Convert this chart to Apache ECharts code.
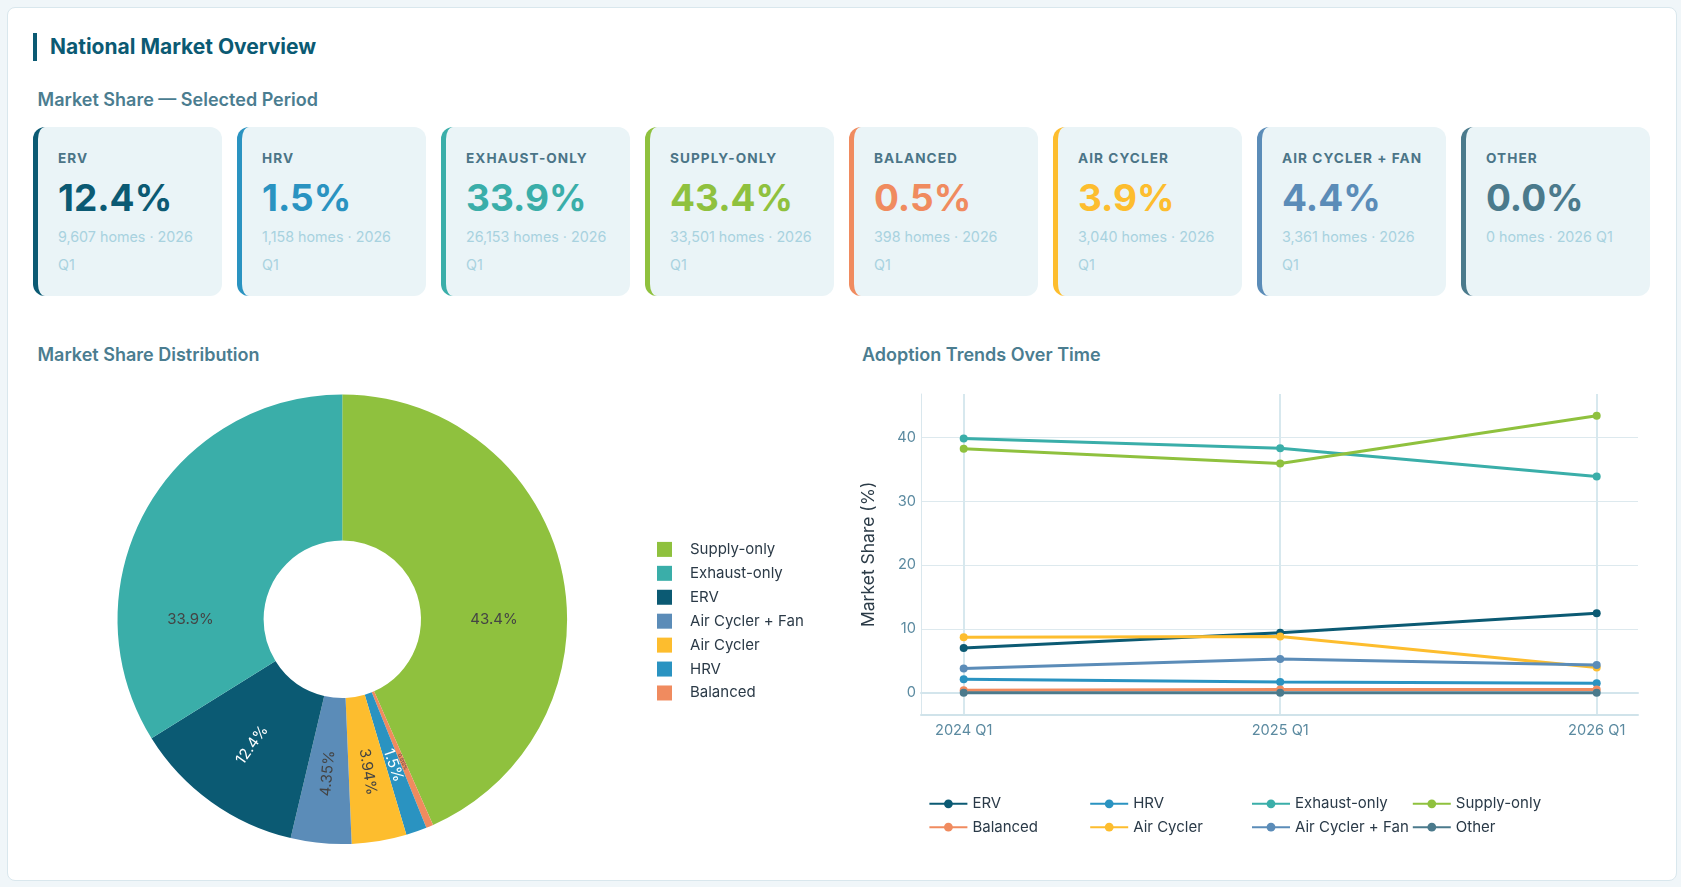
<!DOCTYPE html>
<html>
<head>
<meta charset="utf-8">
<script src="https://cdn.jsdelivr.net/npm/echarts@6/dist/echarts.min.js"></script>
<style>
html,body{margin:0;padding:0;}
body{width:1681px;height:887px;overflow:hidden;background:#f0f6f9;font-family:Inter,'Noto Sans',sans-serif;position:relative;}
#panel{position:absolute;left:7px;top:7px;width:1668px;height:872px;background:#fff;border:1px solid #d9e7ed;border-radius:8px;}
#bar{position:absolute;left:33px;top:33px;width:4px;height:28px;background:#0b5a73;}
#title{position:absolute;left:50px;top:32.7px;font-size:21px;line-height:28px;font-weight:700;color:#0b5a73;white-space:nowrap;}
.sub{position:absolute;font-size:18px;line-height:20px;font-weight:600;color:#4b7d90;white-space:nowrap;}
.card{position:absolute;top:127px;width:188.5px;height:169px;box-sizing:border-box;background:#eaf4f7;border-left:5px solid;border-radius:12px;padding:23px 20.5px 0 20px;}
.lbl{font-size:13.6px;line-height:16px;font-weight:700;letter-spacing:1.05px;color:#4b7587;white-space:nowrap;}
.val{margin-top:10px;font-size:37px;line-height:44px;font-weight:700;white-space:nowrap;}
.meta{margin-top:3px;font-size:14.3px;line-height:28px;color:#a8d2df;}
#chart{position:absolute;left:0;top:0;width:1681px;height:887px;}
</style>
</head>
<body>
<div id="panel"></div>
<div id="bar"></div>
<div id="title">National Market Overview</div>
<div class="sub" style="left:37.6px;top:89.5px">Market Share — Selected Period</div>
<div id="cards"></div>
<div class="sub" style="left:37.5px;top:344.5px">Market Share Distribution</div>
<div class="sub" style="left:862px;top:344.5px">Adoption Trends Over Time</div>
<div id="chart"></div>
<script>
// ---------- DATA ----------
const categories = ['ERV', 'HRV', 'Exhaust-only', 'Supply-only', 'Balanced', 'Air Cycler', 'Air Cycler + Fan', 'Other'];
const homes2026Q1 = [9607, 1158, 26153, 33501, 398, 3040, 3361, 0];
const selectedPeriod = '2026 Q1';
const periods = ['2024 Q1', '2025 Q1', '2026 Q1'];
const shareERV = [7.0, 9.4, 12.44];
const shareHRV = [2.1, 1.7, 1.5];
const shareExhaust = [39.8, 38.3, 33.87];
const shareSupply = [38.2, 35.9, 43.39];
const shareBalanced = [0.4, 0.5, 0.52];
const shareAirCycler = [8.7, 8.8, 3.94];
const shareAirCyclerFan = [3.8, 5.3, 4.35];
const shareOther = [0, 0, 0];
const yTicks = [0, 10, 20, 30, 40];

// ---------- STYLE ----------
const colors = {
  'ERV': '#0b5a73', 'HRV': '#2a93c1', 'Exhaust-only': '#3aaea9', 'Supply-only': '#8fc13e',
  'Balanced': '#f08b5f', 'Air Cycler': '#fdbd2e', 'Air Cycler + Fan': '#5b8cb8', 'Other': '#4b7a8c'
};
const lightTextSlices = ['ERV', 'HRV'];
const trendSeries = [shareERV, shareHRV, shareExhaust, shareSupply, shareBalanced, shareAirCycler, shareAirCyclerFan, shareOther];

// ---------- CARDS ----------
const total = homes2026Q1.reduce((a, b) => a + b, 0);
const cardsEl = document.getElementById('cards');
categories.forEach((name, i) => {
  const c = document.createElement('div');
  c.className = 'card';
  c.style.left = (33 + i * 204) + 'px';
  c.style.borderLeftColor = colors[name];
  const pct = (total ? homes2026Q1[i] / total * 100 : 0).toFixed(1) + '%';
  c.innerHTML = '<div class="lbl">' + name.toUpperCase() + '</div>' +
    '<div class="val" style="color:' + colors[name] + '">' + pct + '</div>' +
    '<div class="meta">' + homes2026Q1[i].toLocaleString('en-US') + ' homes · ' + selectedPeriod + '</div>';
  cardsEl.appendChild(c);
});

// ---------- CHARTS ----------
function render() {
  const chart = echarts.init(document.getElementById('chart'), null, { renderer: 'canvas' });
  const FONT = 'Inter';
  const PIE_C = [342.3, 619.3], PIE_R = [78.7, 224.8];

  const pieItems = categories.map((n, i) => ({ name: n, value: homes2026Q1[i] }))
    .filter(d => d.value > 0).sort((a, b) => b.value - a.value);
  const legendOrder = pieItems.map(d => d.name);
  const pieOrder = [pieItems[0]].concat(pieItems.slice(1).reverse());
  const pieData = pieOrder.map(d => {
    const share = d.value / total;
    return {
      name: d.name, value: d.value,
      itemStyle: { color: colors[d.name] },
      label: {
        rotate: share > 0.2 ? 0 : 'radial',
        color: lightTextSlices.indexOf(d.name) >= 0 ? '#ffffff' : '#444444',
        fontSize: share < 0.01 ? 5 : 15
      }
    };
  });
  const fmtPct = p => String(Number(Number(p.percent).toPrecision(3))) + '%';

  const legendCols = [928.4, 1089.2, 1251, 1411.8];
  const legendRows = [803.8, 827.2];
  const lineLegends = categories.map((n, i) => ({
    data: [n], orient: 'horizontal', padding: 0,
    left: legendCols[i % 4], top: legendRows[Math.floor(i / 4)] - 9,
    itemWidth: 38, itemHeight: 11, selectedMode: false,
    textStyle: { fontFamily: FONT, fontSize: 15, color: '#2a3a48', lineHeight: 18 }
  }));

  const lineSeries = categories.map((n, i) => ({
    type: 'line', name: n, data: trendSeries[i], xAxisIndex: 2, yAxisIndex: 1,
    symbol: 'circle', symbolSize: 8, showSymbol: true,
    lineStyle: { width: 3, color: colors[n] }, itemStyle: { color: colors[n] },
    emphasis: { disabled: true }, silent: true, animation: false
  }));

  const option = {
    animation: false,
    textStyle: { fontFamily: FONT },
    legend: [{
      data: legendOrder, orient: 'vertical', left: 657, top: 541.9, padding: 0,
      itemWidth: 15, itemHeight: 15, itemGap: 8.93, icon: 'rect', selectedMode: false,
      itemStyle: { borderWidth: 0 },
      textStyle: { fontFamily: FONT, fontSize: 15, color: '#2b3a47', lineHeight: 15, padding: [0, 0, 0, 13] }
    }].concat(lineLegends),
    grid: [
      { left: 921, top: 394, width: 717, height: 320.7, containLabel: false, outerBoundsMode: 'none' },
      { left: 963.7, top: 394, width: 633, height: 320.7, containLabel: false, outerBoundsMode: 'none' }
    ],
    xAxis: [
      { gridIndex: 0, type: 'value', min: 0, max: 1, position: 'bottom',
        axisLine: { show: true, onZero: true, lineStyle: { color: '#d3e5ec', width: 2 } },
        axisLabel: { show: false }, axisTick: { show: false }, splitLine: { show: false } },
      { gridIndex: 0, type: 'value', min: 0, max: 1, position: 'bottom',
        axisLine: { show: true, onZero: false, lineStyle: { color: '#d0e3ea', width: 2 } },
        axisLabel: { show: false }, axisTick: { show: false }, splitLine: { show: false } },
      { gridIndex: 1, type: 'category', data: periods, boundaryGap: false, position: 'bottom',
        axisLine: { show: false, onZero: false }, axisTick: { show: false },
        axisLabel: { margin: 8.5, fontSize: 14.6, color: '#5b8aa0', fontFamily: FONT, interval: 0 },
        splitLine: { show: true, lineStyle: { color: '#d7e8ee', width: 2 } } }
    ],
    yAxis: [
      { gridIndex: 0, type: 'value', min: -3.44, max: 46.78,
        name: 'Market Share (%)', nameLocation: 'middle', nameGap: 43,
        nameTextStyle: { fontFamily: FONT, fontSize: 17.5, color: '#2b3b47' },
        axisLine: { show: true, onZero: false, lineStyle: { color: '#d9e7ed', width: 1 } },
        axisTick: { show: false, customValues: yTicks },
        axisLabel: { customValues: yTicks, margin: 5, fontSize: 14.6, color: '#5b8aa0', fontFamily: FONT },
        splitLine: { show: true, lineStyle: { color: '#dde9ee', width: 1 } } },
      { gridIndex: 1, type: 'value', min: -3.44, max: 46.78, show: false,
        splitLine: { show: false } }
    ],
    series: lineSeries.concat([{
      type: 'pie', name: 'Market Share', center: PIE_C, radius: PIE_R,
      startAngle: 90, clockwise: true, percentPrecision: 4, avoidLabelOverlap: false,
      silent: true, emphasis: { disabled: true },
      label: { show: true, position: 'inside', formatter: fmtPct, fontFamily: FONT, fontSize: 15 },
      labelLine: { show: false },
      labelLayout: function (p) {
        const d = pieOrder[p.dataIndex];
        if (d && d.value / total > 0.2) {
          const right = (p.labelRect.x + p.labelRect.width / 2) > PIE_C[0];
          return { x: PIE_C[0] + (right ? 1 : -1) * (PIE_R[0] + PIE_R[1]) / 2, y: PIE_C[1] };
        }
        return {};
      },
      data: pieData
    }])
  };
  chart.setOption(option);
}
if (document.fonts && document.fonts.load) {
  Promise.all([document.fonts.load('15px Inter'), document.fonts.load('bold 15px Inter')])
    .then(render, render);
} else { render(); }
</script>
</body>
</html>
